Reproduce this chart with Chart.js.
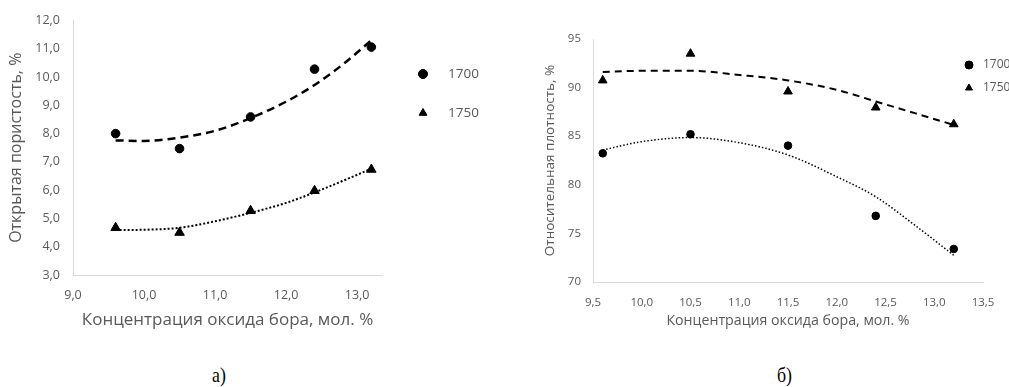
<!DOCTYPE html>
<html>
<head>
<meta charset="utf-8">
<script src="https://cdn.jsdelivr.net/npm/chart.js@4"></script>
<style>
  body { margin: 0; background: #fff; width: 1009px; height: 387px; position: relative; overflow: hidden; }
  .box { position: absolute; top: 0; height: 340px; }
  .cap { position: absolute; top: 363px; font-family: "Liberation Serif", serif; font-size: 21px; color: #000; transform: scaleX(0.85); transform-origin: left; }
</style>
</head>
<body>
<div class="box" style="left:0;width:500px"><canvas id="left"></canvas></div>
<div class="box" style="left:500px;width:509px"><canvas id="right"></canvas></div>
<div class="cap" style="left:212px">а)</div>
<div class="cap" style="left:777px">б)</div>
<script>
// boron oxide concentration, mol. %
const conc = [9.6, 10.5, 11.5, 12.4, 13.2];

// (a) open porosity, %
const poro1700 = [8.0, 7.47, 8.59, 10.28, 11.06];
const poro1750 = [4.67, 4.5, 5.27, 5.98, 6.73];

// (б) relative density, %
const dens1700 = [83.24, 85.2, 84.03, 76.8, 73.4];
const dens1750 = [90.74, 93.49, 89.6, 87.95, 86.23];

// trend lines
const trendX = [9.6, 10.0, 10.5, 11.0, 11.5, 12.0, 12.4, 12.8, 13.2];
const poroTrend1700 = [7.76, 7.74, 7.86, 8.1, 8.55, 9.13, 9.72, 10.45, 11.3];
const poroTrend1750 = [4.59, 4.6, 4.67, 4.9, 5.2, 5.55, 5.92, 6.33, 6.76];
const densTrend1700 = [83.58, 84.44, 84.86, 84.33, 83.07, 80.83, 78.77, 75.85, 72.75];
const densTrend1750 = [91.6, 91.73, 91.73, 91.3, 90.74, 89.77, 88.57, 87.37, 86.16];

const ticksA = [9, 10, 11, 12, 13];
const ticksB = [9.5, 10, 10.5, 11, 11.5, 12, 12.5, 13, 13.5];

const FONT = "'Open Sans', sans-serif";
const GREY = "#595959";
const AXIS = "#d9d9d9";

const pts = (xs, ys) => xs.map((x, i) => ({ x: x, y: ys[i] }));
const comma = (v) => v.toFixed(1).replace(".", ",");

function trend(data, dash, width) {
  return {
    label: "", data: data, showLine: true, cubicInterpolationMode: "monotone", pointRadius: 0,
    borderColor: "#000", borderWidth: width, borderDash: dash, fill: false, isTrend: true
  };
}
function marks(label, data, style, r) {
  return {
    label: label, data: data, pointStyle: style, pointRadius: r, pointHoverRadius: r,
    backgroundColor: "#000", borderColor: "#000", showLine: false
  };
}

// small legend drawn beside the plot
const sideLegend = {
  id: "sideLegend",
  afterDraw(chart, args, o) {
    const ctx = chart.ctx;
    chart.data.datasets.filter(d => !d.isTrend).forEach((d, i) => {
      const y = o.y + i * o.gap;
      Chart.helpers.drawPoint(ctx, { pointStyle: d.pointStyle, radius: o.r, borderWidth: 1 }, o.x, y);
      ctx.fillStyle = "#000";
      ctx.strokeStyle = "#000";
      ctx.fill();
      ctx.save();
      ctx.font = o.size + "px " + FONT;
      ctx.fillStyle = GREY;
      ctx.textBaseline = "middle";
      ctx.fillText(d.label, o.x + o.dx, y);
      ctx.restore();
    });
  }
};

function makeChart(id, cfg) {
  return new Chart(document.getElementById(id), {
    type: "scatter",
    data: { datasets: cfg.datasets },
    plugins: [sideLegend],
    options: {
      responsive: true, maintainAspectRatio: false, animation: false,
      layout: { padding: { top: cfg.top, right: cfg.right, left: 0, bottom: 0 } },
      plugins: {
        legend: { display: false }, tooltip: { enabled: false },
        sideLegend: cfg.legend
      },
      scales: {
        x: {
          min: cfg.xmin, max: cfg.xmax,
          afterBuildTicks: s => { s.ticks = cfg.xticks.map(v => ({ value: v })); },
          afterFit: s => { s.height = cfg.xh; },
          grid: { display: false, drawTicks: false },
          border: { color: AXIS, width: 1 },
          ticks: { color: GREY, padding: cfg.xpad, font: { family: FONT, size: cfg.tick }, callback: v => comma(v) },
          title: { display: true, text: "Концентрация оксида бора, мол. %", color: GREY,
                   font: { family: FONT, size: cfg.xtitle }, padding: { top: 0, bottom: cfg.xtp } }
        },
        y: {
          min: cfg.ymin, max: cfg.ymax,
          ticks: { stepSize: cfg.ystep, color: GREY, padding: cfg.ypad, font: { family: FONT, size: cfg.tick },
                   callback: cfg.yfmt },
          afterFit: s => { s.width = cfg.yw; },
          grid: { display: false, drawTicks: false },
          border: { color: AXIS, width: 1 },
          title: { display: true, text: cfg.ytitle, color: GREY,
                   font: { family: FONT, size: cfg.title }, padding: { top: cfg.ytp, bottom: 0 } }
        }
      }
    }
  });
}

makeChart("left", {
  datasets: [
    marks("1700", pts(conc, poro1700), "circle", 4.3),
    marks("1750", pts(conc, poro1750), "triangle", 5.5),
    trend(pts(trendX, poroTrend1700), [8, 5], 2.5),
    trend(pts(trendX, poroTrend1750), [2, 2], 2)
  ],
  top: 20, right: 118, xh: 65, yw: 73,
  xmin: 9, xmax: 13.35, xticks: ticksA, ymin: 3, ymax: 12, ystep: 1,
  yfmt: v => comma(v), tick: 12.5, title: 16, xtitle: 17, xpad: 13, xtp: 10, ypad: 13, ytp: 7,
  ytitle: "Открытая пористость, %",
  legend: { x: 423, y: 74, gap: 39, r: 4.5, dx: 25, size: 13.5 }
});

makeChart("right", {
  datasets: [
    marks("1700", pts(conc, dens1700), "circle", 3.8),
    marks("1750", pts(conc, dens1750), "triangle", 5),
    trend(pts(trendX, densTrend1750), [7, 5], 2),
    trend(pts(trendX, densTrend1700), [1.5, 2], 1.5)
  ],
  top: 39, right: 26, xh: 58, yw: 93,
  xmin: 9.5, xmax: 13.5, xticks: ticksB, ymin: 70, ymax: 95, ystep: 5,
  yfmt: v => String(v), tick: 11.5, title: 13.5, xtitle: 14.2, xpad: 14, xtp: 11, ypad: 12, ytp: 42,
  ytitle: "Относительная плотность, %",
  legend: { x: 469, y: 65, gap: 23, r: 4, dx: 14, size: 12 }
});
</script>
</body>
</html>
